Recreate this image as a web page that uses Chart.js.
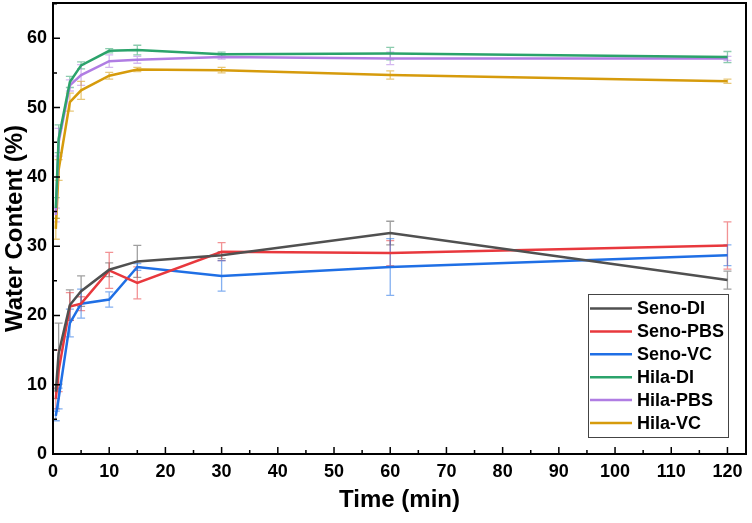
<!DOCTYPE html>
<html>
<head>
<meta charset="utf-8">
<script src="https://cdn.jsdelivr.net/npm/chart.js@4.4.1/dist/chart.umd.min.js"></script>
<style>
  html, body { margin: 0; padding: 0; background: #fff; }
  #wrap { width: 752px; height: 523px; }
</style>
</head>
<body>
<div id="wrap"><canvas id="c" width="752" height="523"></canvas></div>
<script>
const times = [0.5, 1, 3, 5, 10, 15, 30, 60, 120];
const seriesNames = ["Seno-DI", "Seno-PBS", "Seno-VC", "Hila-DI", "Hila-PBS", "Hila-VC"];
const senoDI   = [9, 14.5, 21.5, 23.5, 26.6, 27.8, 28.7, 31.9, 25.1];
const senoPBS  = [8, 12, 21.3, 21.7, 26.5, 24.7, 29.2, 29.0, 30.1];
const senoVC   = [5.5, 8, 18.9, 21.7, 22.3, 27.0, 25.7, 27.0, 28.7];
const hilaDI   = [35.5, 45.5, 53.7, 56.1, 58.2, 58.3, 57.7, 57.8, 57.3];
const hilaPBS  = [34.5, 45, 53.2, 54.7, 56.7, 56.9, 57.3, 57.1, 57.1];
const hilaVC   = [32.5, 41, 50.8, 52.5, 54.6, 55.5, 55.4, 54.7, 53.8];
const errSenoDI  = [1, 4.4, 2.2, 2.2, 1, 2.3, 0.5, 1.7, 1.3];
const errSenoPBS = [1.5, 3, 2, 1, 2.6, 2.3, 1.3, 1.8, 3.4];
const errSenoVC  = [0.7, 1.5, 2, 2.1, 1.1, 0.5, 2.2, 4.1, 1.5];
const errHilaDI  = [1.5, 2, 0.8, 0.5, 0.3, 0.7, 0.3, 0.9, 0.8];
const errHilaPBS = [1, 2, 0.8, 1.5, 0.9, 0.5, 0.3, 0.9, 0.3];
const errHilaVC  = [1.5, 1.5, 1.3, 1.3, 0.5, 0.3, 0.4, 0.6, 0.3];
const xTicks = [0, 10, 20, 30, 40, 50, 60, 70, 80, 90, 100, 110, 120];
const yTicks = [0, 10, 20, 30, 40, 50, 60];

const colors = ["#505050", "#e8383d", "#1f6fe5", "#2ba36b", "#b07de3", "#d69b0c"];
const errColors = ["rgba(80,80,80,0.55)", "rgba(232,56,61,0.55)", "rgba(31,111,229,0.55)",
                   "rgba(43,163,107,0.55)", "rgba(176,125,227,0.55)", "rgba(214,155,12,0.55)"];
const values = [senoDI, senoPBS, senoVC, hilaDI, hilaPBS, hilaVC];
const errors = [errSenoDI, errSenoPBS, errSenoVC, errHilaDI, errHilaPBS, errHilaVC];

const FONT = "'Liberation Sans', Arial, sans-serif";

const datasets = seriesNames.map((n, k) => ({
  label: n,
  data: times.map((t, i) => ({ x: t, y: values[k][i] })),
  borderColor: colors[k],
  backgroundColor: colors[k],
  borderWidth: 2.5,
  pointRadius: 0,
  tension: 0,
  fill: false
}));

const errorBarPlugin = {
  id: 'errorBars',
  beforeDatasetsDraw(chart) {
    const { ctx, scales: { x, y }, chartArea } = chart;
    ctx.save();
    ctx.beginPath();
    ctx.rect(chartArea.left, chartArea.top, chartArea.right - chartArea.left, chartArea.bottom - chartArea.top);
    ctx.clip();
    ctx.lineWidth = 1.3;
    for (let k = 0; k < values.length; k++) {
      ctx.strokeStyle = errColors[k];
      for (let i = 0; i < times.length; i++) {
        const px = x.getPixelForValue(times[i]);
        const y1 = y.getPixelForValue(values[k][i] - errors[k][i]);
        const y2 = y.getPixelForValue(values[k][i] + errors[k][i]);
        ctx.beginPath();
        ctx.moveTo(px, y1); ctx.lineTo(px, y2);
        ctx.moveTo(px - 4, y1); ctx.lineTo(px + 4, y1);
        ctx.moveTo(px - 4, y2); ctx.lineTo(px + 4, y2);
        ctx.stroke();
      }
    }
    ctx.restore();
  }
};

const framePlugin = {
  id: 'frame',
  afterDatasetsDraw(chart) {
    const { ctx, scales: { x, y }, chartArea: a } = chart;
    ctx.save();
    ctx.strokeStyle = '#000';
    ctx.lineWidth = 2;
    ctx.strokeRect(a.left, a.top, a.right - a.left, a.bottom - a.top);
    ctx.lineWidth = 1.5;
    ctx.beginPath();
    xTicks.forEach(v => {
      const px = x.getPixelForValue(v);
      ctx.moveTo(px, a.bottom); ctx.lineTo(px, a.bottom - 7);
      if (v < 120) {
        const pm = x.getPixelForValue(v + 5);
        ctx.moveTo(pm, a.bottom); ctx.lineTo(pm, a.bottom - 4);
      }
    });
    yTicks.forEach(v => {
      const py = y.getPixelForValue(v);
      ctx.moveTo(a.left, py); ctx.lineTo(a.left + 7, py);
      const pm = y.getPixelForValue(v + 5);
      if (pm > a.top) { ctx.moveTo(a.left, pm); ctx.lineTo(a.left + 4, pm); }
    });
    ctx.stroke();
    ctx.restore();
  }
};

const legendPlugin = {
  id: 'boxLegend',
  afterDraw(chart) {
    const { ctx } = chart;
    const left = 588, top = 294, right = 728, bottom = 437;
    ctx.save();
    ctx.fillStyle = '#fff';
    ctx.fillRect(left, top, right - left, bottom - top);
    ctx.strokeStyle = '#444';
    ctx.lineWidth = 1;
    ctx.strokeRect(left + 0.5, top + 0.5, right - left, bottom - top);
    ctx.font = "bold 18px " + FONT;
    ctx.textBaseline = 'middle';
    ctx.textAlign = 'left';
    chart.data.datasets.forEach((ds, k) => {
      const yy = 308.5 + k * 22.9;
      ctx.strokeStyle = ds.borderColor;
      ctx.lineWidth = 2.5;
      ctx.beginPath();
      ctx.moveTo(590, yy); ctx.lineTo(632, yy);
      ctx.stroke();
      ctx.fillStyle = '#000';
      ctx.fillText(ds.label, 637, yy + 1);
    });
    ctx.restore();
  }
};

new Chart(document.getElementById('c'), {
  type: 'line',
  data: { datasets },
  plugins: [errorBarPlugin, framePlugin, legendPlugin],
  options: {
    responsive: false,
    animation: false,
    devicePixelRatio: 1,
    layout: { padding: { top: 3, right: 6, left: 0, bottom: 0 } },
    plugins: { legend: { display: false }, tooltip: { enabled: false } },
    scales: {
      x: {
        type: 'linear',
        min: 0, max: 123.3,
        afterFit: s => { s.height = 69; s.paddingLeft = 0; s.paddingRight = 0; },
        afterBuildTicks: s => { s.ticks = xTicks.map(v => ({ value: v })); },
        grid: { display: false, drawTicks: false },
        border: { display: false },
        ticks: { color: '#000', padding: 7, maxRotation: 0, autoSkip: false,
                 font: { family: FONT, size: 18, weight: 'bold' } },
        title: { display: true, text: 'Time (min)', color: '#000',
                 padding: { top: 0, bottom: 8.6 },
                 font: { family: FONT, size: 24, weight: 'bold' } }
      },
      y: {
        type: 'linear',
        min: 0, max: 65.1,
        afterFit: s => { s.width = 53; s.paddingTop = 0; s.paddingBottom = 0; },
        afterBuildTicks: s => { s.ticks = yTicks.map(v => ({ value: v })); },
        grid: { display: false, drawTicks: false },
        border: { display: false },
        ticks: { color: '#000', padding: 6, autoSkip: false,
                 font: { family: FONT, size: 18, weight: 'bold' } },
        title: { display: true, text: 'Water Content (%)', color: '#000',
                 padding: { top: 1, bottom: 0 },
                 font: { family: FONT, size: 24, weight: 'bold' } }
      }
    }
  }
});
</script>
</body>
</html>
